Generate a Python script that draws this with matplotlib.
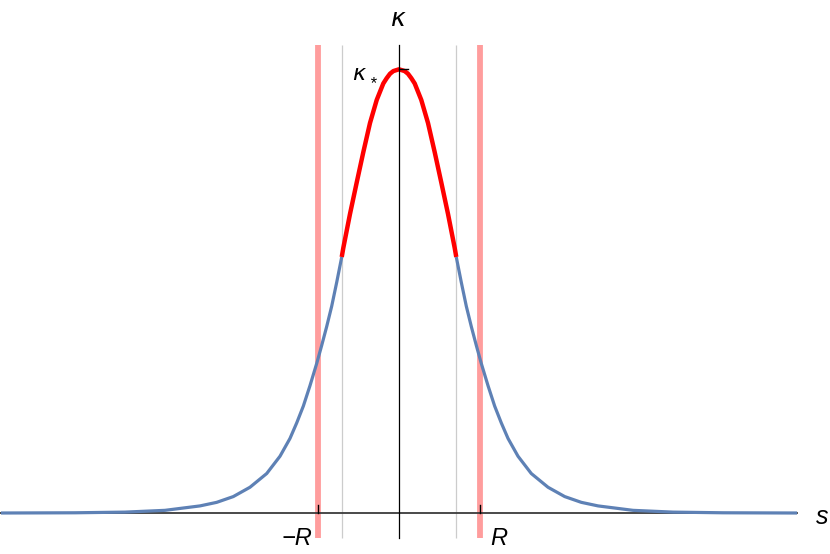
import numpy as np
import matplotlib
matplotlib.use("Agg")
import matplotlib.pyplot as plt

# -------------------------------------------------------------------------------------------------- #

# Right half of the curve (s in units of R, kappa in units of kappa_*)
# The picture is symmetric about s = 0, the left half is its mirror image
s_half = [0.000, 0.070, 0.111, 0.152, 0.194, 0.275, 0.358, 0.441, 0.522, 0.605, 0.688, 0.707,
          0.769, 0.831, 0.893, 0.954, 1.016, 1.099, 1.181, 1.263, 1.346, 1.469,
          1.633, 1.840, 2.046, 2.251, 2.457, 2.889, 3.383, 4.000, 4.914]
kappa_half = [1.000, 0.996, 0.990, 0.980, 0.968, 0.931, 0.879, 0.813, 0.745, 0.674, 0.597, 0.577,
              0.520, 0.466, 0.420, 0.378, 0.337, 0.287, 0.241, 0.203, 0.168, 0.128,
              0.089, 0.058, 0.037, 0.024, 0.016, 0.006, 0.002, 0.0005, 0.000]

R = 1.0          # pink lines at +-R
s_core = 0.707   # grey lines, red part of the curve in between
kappa_star = 1.0

# -------------------------------------------------------------------------------------------------- #

s_vals = np.concatenate((-np.array(s_half[:0:-1]), np.array(s_half)))
kappa_vals = np.concatenate((np.array(kappa_half[:0:-1]), np.array(kappa_half)))

fig = plt.figure(figsize=(8.3, 5.54), dpi=100)
ax = fig.add_axes([0, 0, 1, 1])
ax.set_xlim(-4.926, 5.321)
ax.set_ylim(-0.0924, 1.1562)
ax.axis('off')

y_lo, y_hi = -0.056, 1.055

# vertical guide lines
ax.vlines([-s_core, s_core], y_lo, y_hi, colors='#cccccc', linewidth=0.9, zorder=1)
ax.vlines([-R, R], y_lo, y_hi, colors='#ff9d9d', linewidth=4.2, zorder=2)

# axes
ax.plot([-4.926, 4.914], [0, 0], color='#3a3a3a', linewidth=1.3, zorder=3)

# curve: blue outside, red inside the grey lines
left = s_vals <= -s_core
right = s_vals >= s_core
mid = np.abs(s_vals) <= s_core
for part in (left, right):
    ax.plot(s_vals[part], kappa_vals[part], color='#5e81b5', linewidth=2.3, zorder=4,
            solid_capstyle='butt', solid_joinstyle='round')
ax.plot(s_vals[mid], kappa_vals[mid], color='#ff0000', linewidth=3.2, zorder=5,
        solid_capstyle='butt', solid_joinstyle='round')

ax.plot([0, 0], [y_lo, y_hi], color='black', linewidth=0.9, zorder=6)

# ticks
ax.plot([-R, -R], [0, 0.018], color='black', linewidth=1.0, zorder=6)
ax.plot([R, R], [0, 0.018], color='black', linewidth=1.0, zorder=6)
ax.plot([0, 0.111], [kappa_star, kappa_star], color='black', linewidth=1.0, zorder=6)

# labels
font = dict(family='Liberation Sans', style='italic')
greek = dict(family='DejaVu Sans', style='italic')
ax.text(-0.006, 1.113, 'κ', fontsize=18, ha='center', va='center', **greek)
ax.text(-0.494, 0.990, 'κ', fontsize=16, ha='center', va='center', **greek)
ax.text(-0.335, 0.968, '*', fontsize=12, ha='center', va='center', **font)
ax.text(-1.265, -0.058, '\u2212R', fontsize=17, ha='center', va='center', **font)
ax.text(1.235, -0.058, 'R', fontsize=17, ha='center', va='center', **font)
ax.text(5.228, -0.008, 's', fontsize=18, ha='center', va='center', **font)

fig.savefig('out.png', dpi=100)
